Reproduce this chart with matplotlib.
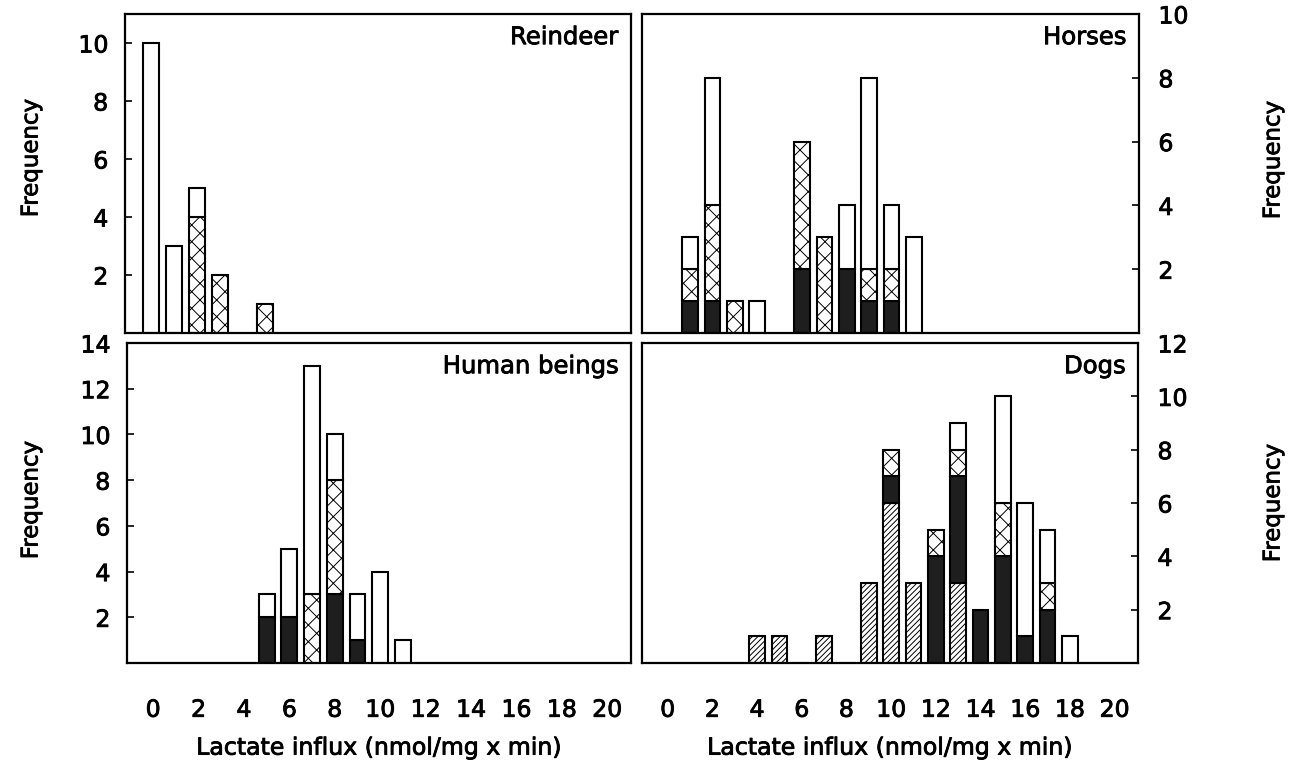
import matplotlib
matplotlib.use("Agg")
import matplotlib.pyplot as plt
import matplotlib.patheffects as pe
import numpy as np

plt.rcParams['font.family'] = ['DejaVu Sans']
plt.rcParams['hatch.linewidth'] = 0.7

# bin positions (lactate influx) and stacked counts per group, bottom -> top
rein_pos = [0, 1, 2, 3, 5]
rein_hatch = [0, 0, 0, 0, 0]
rein_black = [0, 0, 0, 0, 0]
rein_cross = [0, 0, 4, 2, 1]
rein_white = [10, 3, 1, 0, 0]

horse_pos = [1, 2, 3, 4, 6, 7, 8, 9, 10, 11]
horse_hatch = [0, 0, 0, 0, 0, 0, 0, 0, 0, 0]
horse_black = [1, 1, 0, 0, 2, 0, 2, 1, 1, 0]
horse_cross = [1, 3, 1, 0, 4, 3, 0, 1, 1, 0]
horse_white = [1, 4, 0, 1, 0, 0, 2, 6, 2, 3]

human_pos = [5, 6, 7, 8, 9, 10, 11]
human_hatch = [0, 0, 0, 0, 0, 0, 0]
human_black = [2, 2, 0, 3, 1, 0, 0]
human_cross = [0, 0, 3, 5, 0, 0, 0]
human_white = [1, 3, 10, 2, 2, 4, 1]

dog_pos = [4, 5, 7, 9, 10, 11, 12, 13, 14, 15, 16, 17, 18]
dog_hatch = [1, 1, 1, 3, 6, 3, 0, 3, 0, 0, 0, 0, 0]
dog_black = [0, 0, 0, 0, 1, 0, 4, 4, 2, 4, 1, 2, 0]
dog_cross = [0, 0, 0, 0, 1, 0, 1, 1, 0, 2, 0, 1, 0]
dog_white = [0, 0, 0, 0, 0, 0, 0, 1, 0, 4, 5, 2, 1]

xticks = list(range(0, 21, 2))

# layer styles: (facecolor, hatch)
styles = [('white', '//////'), ('#1e1e1e', None), ('white', 'xx'), ('white', None)]
thick = [pe.withStroke(linewidth=0.6, foreground='black')]


def draw(ax, pos, layers, title, ymax, yticks, side):
    pos = np.array(pos)
    bottom = np.zeros(len(pos))
    for vals, (fc, h) in zip(layers, styles):
        vals = np.array(vals, dtype=float)
        m = vals > 0
        if m.any():
            ax.bar(pos[m], vals[m], width=0.7, bottom=bottom[m], color=fc,
                   edgecolor='black', linewidth=1.5, hatch=h, zorder=2)
        bottom += vals
    ax.set_xlim(-1.15, 21.05)
    ax.set_ylim(0, ymax)
    ax.set_yticks(yticks)
    ax.set_xticks(xticks)
    ax.text(0.975, 0.965, title, transform=ax.transAxes, ha='right', va='top',
            fontsize=17.5, path_effects=thick)
    for s in ax.spines.values():
        s.set_linewidth(1.6)
    if side == 'left':
        ax.tick_params(axis='y', direction='in', length=5, width=1.2,
                       labelsize=17, pad=12)
    else:
        ax.yaxis.tick_right()
        ax.tick_params(axis='y', direction='in', length=5, width=1.2,
                       labelsize=17, pad=14)
    ax.tick_params(axis='x', length=0, labelsize=17, pad=25)
    for lab in ax.get_xticklabels() + ax.get_yticklabels():
        lab.set_path_effects(thick)


fig = plt.figure(figsize=(13.03, 7.65), dpi=100)
ax1 = fig.add_axes([0.0959, 0.5647, 0.3883, 0.417])
ax2 = fig.add_axes([0.4927, 0.5647, 0.3814, 0.417])
ax3 = fig.add_axes([0.0975, 0.1333, 0.3868, 0.4183])
ax4 = fig.add_axes([0.4927, 0.1333, 0.3807, 0.4183])

draw(ax1, rein_pos, [rein_hatch, rein_black, rein_cross, rein_white],
     'Reindeer', 11, [2, 4, 6, 8, 10], 'left')
draw(ax2, horse_pos, [horse_hatch, horse_black, horse_cross, horse_white],
     'Horses', 10, [2, 4, 6, 8, 10], 'right')
draw(ax3, human_pos, [human_hatch, human_black, human_cross, human_white],
     'Human beings', 14, [2, 4, 6, 8, 10, 12, 14], 'left')
draw(ax4, dog_pos, [dog_hatch, dog_black, dog_cross, dog_white],
     'Dogs', 12, [2, 4, 6, 8, 10, 12], 'right')

ax1.set_xticklabels([])
ax2.set_xticklabels([])
for ax in (ax3, ax4):
    ax.set_xlabel('Lactate influx (nmol/mg x min)', fontsize=17, labelpad=10,
                  path_effects=thick)

# Frequency labels (x, y in pixels from top-left)
ylab_pos = [(31, 158), (31, 500), (1273, 160), (1273, 503)]
for px, py in ylab_pos:
    fig.text(px / 1303, 1 - py / 765, 'Frequency', rotation=90, ha='center',
             va='center', fontsize=16.5, path_effects=thick)

fig.savefig('out.png', dpi=100)
